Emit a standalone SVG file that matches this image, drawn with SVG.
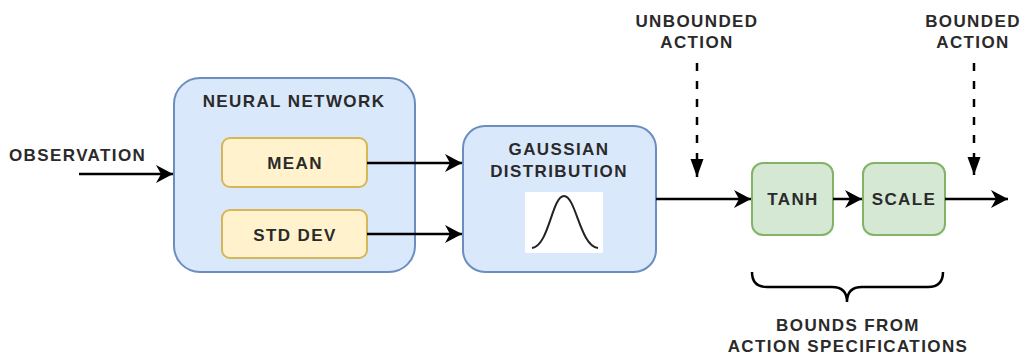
<svg xmlns="http://www.w3.org/2000/svg" width="1023" height="356" viewBox="0 0 1023 356">
<style>
text{font-family:"Liberation Sans",Arial,sans-serif;font-weight:bold;font-size:17px;fill:#2a2a2a;text-anchor:middle;letter-spacing:1.4px}
.blue{fill:#dae8fc;stroke:#6c8ebf;stroke-width:2}
.yellow{fill:#fff2cc;stroke:#d6b656;stroke-width:2}
.green{fill:#d5e8d4;stroke:#82b366;stroke-width:2}
.edge{fill:none;stroke:#000;stroke-width:2.5}
.dash{fill:none;stroke:#000;stroke-width:2.5;stroke-dasharray:8 10}
</style>
<defs>
<marker id="arr" markerUnits="userSpaceOnUse" markerWidth="22" markerHeight="22" viewBox="-18 -11 22 22" refX="0" refY="0" orient="auto">
<path d="M0,0 L-17,-9 L-12,0 L-17,9 Z" fill="#000"/>
</marker>
<marker id="blk" markerUnits="userSpaceOnUse" markerWidth="22" markerHeight="22" viewBox="-19 -11 22 22" refX="0" refY="0" orient="auto">
<path d="M0,0 L-18,-6.5 L-18,6.5 Z" fill="#000"/>
</marker>
</defs>

<g id="nn">
<rect class="blue" x="174" y="78" width="241" height="194" rx="26"/>
<text x="294" y="107">NEURAL NETWORK</text>
</g>
<g id="mean">
<rect class="yellow" x="222" y="138" width="145" height="49" rx="8"/>
<text x="295" y="169">MEAN</text>
</g>
<g id="std">
<rect class="yellow" x="222" y="210" width="145" height="48" rx="8"/>
<text x="295" y="241">STD DEV</text>
</g>
<g id="gauss">
<rect class="blue" x="463" y="126" width="193" height="146" rx="22"/>
<text x="559" y="155">GAUSSIAN</text>
<text x="559" y="177">DISTRIBUTION</text>
<rect x="525" y="192" width="78" height="61" fill="#fff"/>
<path d="M532,248 C549,246 552,196 564,196 C576,196 580,246 598,248" fill="none" stroke="#222" stroke-width="2"/>
</g>
<g id="tanh">
<rect class="green" x="752" y="163" width="81" height="72" rx="11"/>
<text x="793" y="205">TANH</text>
</g>
<g id="scale">
<rect class="green" x="863" y="163" width="82" height="72" rx="11"/>
<text x="904" y="205">SCALE</text>
</g>
<g id="labels">
<text x="9" y="161" style="text-anchor:start">OBSERVATION</text>
<text x="697" y="27">UNBOUNDED</text>
<text x="697" y="48">ACTION</text>
<text x="973" y="27">BOUNDED</text>
<text x="973" y="48">ACTION</text>
<text x="848" y="331">BOUNDS FROM</text>
<text x="848" y="352">ACTION SPECIFICATIONS</text>
</g>
<g id="connectors">
<path class="edge" d="M79,174 L173,174" marker-end="url(#arr)"/>
<path class="edge" d="M367,163 L462,163" marker-end="url(#arr)"/>
<path class="edge" d="M367,234 L462,234" marker-end="url(#arr)"/>
<path class="edge" d="M656,199 L751,199" marker-end="url(#arr)"/>
<path class="edge" d="M833,199 L862,199" marker-end="url(#arr)"/>
<path class="edge" d="M945,199 L1008,199" marker-end="url(#arr)"/>
<path class="dash" d="M697,63 L697,177" marker-end="url(#blk)"/>
<path class="dash" d="M974,63 L974,175" marker-end="url(#blk)"/>
<path class="edge" d="M752,272 Q752,287 767,287 L832,287 Q847,287 847,302 Q847,287 862,287 L928,287 Q943,287 943,272"/>
</g>
</svg>
